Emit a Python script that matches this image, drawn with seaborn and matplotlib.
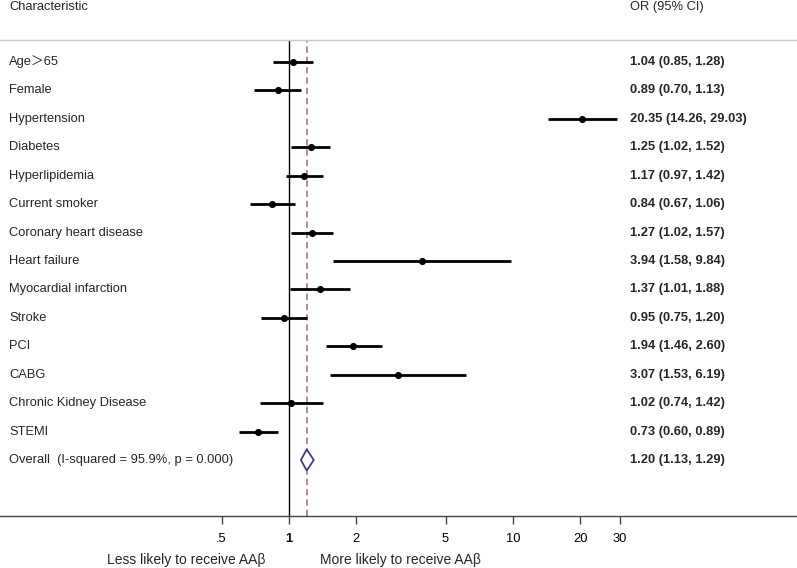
import numpy as np
import pandas as pd
import matplotlib
matplotlib.use("Agg")
import matplotlib.pyplot as plt
import matplotlib.transforms as mtransforms
import seaborn as sns

# ---- data ----
labels = ["Age＞65", "Female", "Hypertension", "Diabetes", "Hyperlipidemia",
          "Current smoker", "Coronary heart disease", "Heart failure",
          "Myocardial infarction", "Stroke", "PCI", "CABG",
          "Chronic Kidney Disease", "STEMI"]
or_vals = [1.04, 0.89, 20.35, 1.25, 1.17, 0.84, 1.27, 3.94, 1.37, 0.95, 1.94, 3.07, 1.02, 0.73]
ci_low = [0.85, 0.70, 14.26, 1.02, 0.97, 0.67, 1.02, 1.58, 1.01, 0.75, 1.46, 1.53, 0.74, 0.60]
ci_high = [1.28, 1.13, 29.03, 1.52, 1.42, 1.06, 1.57, 9.84, 1.88, 1.20, 2.60, 6.19, 1.42, 0.89]

overall_label = "Overall  (I-squared = 95.9%, p = 0.000)"
overall_or, overall_lo, overall_hi = 1.20, 1.13, 1.29

tick_vals = [0.5, 1, 2, 5, 10, 20, 30]
tick_labels = [".5", "1", "2", "5", "10", "20", "30"]

df = pd.DataFrame({"label": labels, "OR": or_vals, "lo": ci_low, "hi": ci_high})
df["row"] = np.arange(len(df))
overall_row = len(df)

# ---- style ----
sns.set_theme(style="white")
plt.rcParams["font.family"] = ["Liberation Sans", "Noto Sans CJK SC", "DejaVu Sans"]
FS = 9.3

W, H = 797, 568
fig = plt.figure(figsize=(W / 100, H / 100), dpi=100)
fig.patch.set_facecolor("white")
ax = fig.add_axes([0, 52 / H, 1, 476 / H])
ax.set_facecolor("white")

ax.set_xscale("log")
ax.set_xlim(10 ** (-289 / 224), 10 ** ((W - 289) / 224))
ax.set_ylim(15.97, -0.774)

# reference lines
ax.axvline(1, color="black", lw=1.0, zorder=1)
ax.axvline(overall_or, color="#b0808f", lw=1.3, ls=(0, (3.5, 2.2)), zorder=1)

# CIs and points
ax.hlines(df["row"], df["lo"], df["hi"], color="black", lw=2.0, zorder=2)
sns.scatterplot(data=df, x="OR", y="row", ax=ax, color="black", s=26,
                edgecolor="black", linewidth=0, zorder=3, legend=False)

# overall diamond
hh = 0.37
dx = [overall_lo, overall_or, overall_hi, overall_or, overall_lo]
dy = [overall_row, overall_row - hh, overall_row, overall_row + hh, overall_row]
ax.fill(dx, dy, facecolor="white", edgecolor="#3c3c8c", lw=1.3, zorder=4)

# axes styling
for s in ["left", "right"]:
    ax.spines[s].set_visible(False)
ax.spines["top"].set_color("#c8c8c8")
ax.spines["top"].set_linewidth(1.0)
ax.spines["bottom"].set_color("#444444")
ax.spines["bottom"].set_linewidth(1.0)
ax.set_yticks([])
ax.set_ylabel("")
ax.set_xlabel("")
ax.xaxis.set_minor_locator(matplotlib.ticker.NullLocator())
ax.set_xticks(tick_vals)
ax.set_xticklabels(tick_labels)
ax.tick_params(axis="x", which="major", direction="out", length=6, width=1,
               color="#444444", pad=6, labelsize=FS, labelcolor="black", bottom=True)
for t in ax.get_xticklabels():
    if t.get_text() == "1":
        t.set_fontweight("bold")

# texts
trans = mtransforms.blended_transform_factory(ax.transAxes, ax.transData)
for r, lab in zip(df["row"], df["label"]):
    ax.text(9 / W, r, lab, transform=trans, ha="left", va="center", fontsize=FS)
ax.text(9 / W, overall_row, overall_label, transform=trans, ha="left", va="center", fontsize=FS)

for r, o, l, h in zip(df["row"], df["OR"], df["lo"], df["hi"]):
    ax.text(630 / W, r, f"{o:.2f} ({l:.2f}, {h:.2f})", transform=trans,
            ha="left", va="center", fontsize=FS, fontweight="bold")
ax.text(630 / W, overall_row, f"{overall_or:.2f} ({overall_lo:.2f}, {overall_hi:.2f})",
        transform=trans, ha="left", va="center", fontsize=FS, fontweight="bold")

fig.text(9 / W, 1 - 7 / H, "Characteristic", ha="left", va="center", fontsize=FS)
fig.text(630 / W, 1 - 7 / H, "OR (95% CI)", ha="left", va="center", fontsize=FS)

fig.text(186 / W, 1 - 560 / H, "Less likely to receive AAβ", ha="center", va="center", fontsize=10)
fig.text(400 / W, 1 - 560 / H, "More likely to receive AAβ", ha="center", va="center", fontsize=10)

fig.savefig("out.png", dpi=100, facecolor="white")
